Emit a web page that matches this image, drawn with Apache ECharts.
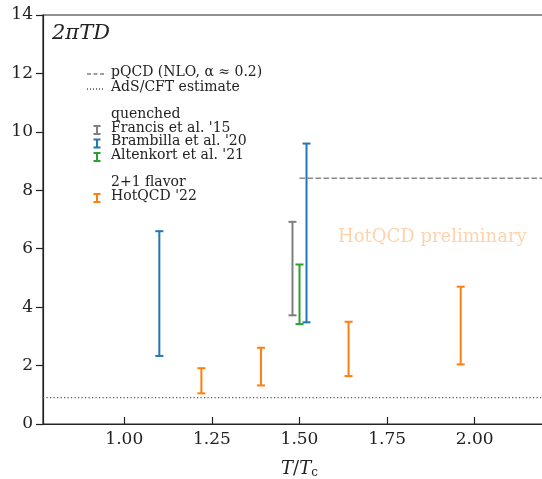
<!DOCTYPE html>
<html>
<head>
<meta charset="utf-8">
<script src="https://cdn.jsdelivr.net/npm/echarts@6/dist/echarts.min.js"></script>
<style>
  html, body { margin: 0; padding: 0; background: #fff; overflow: hidden; }
  #chart { width: 542px; height: 479px; }
</style>
</head>
<body>
<div id="chart"></div>
<script>
// Diffusion coefficient 2πTD versus T/Tc: lattice determinations and model references

// Quenched lattice results
const francisT = [1.48];
const francisLow = [3.72];
const francisHigh = [6.92];

const brambillaT = [1.10, 1.52];
const brambillaLow = [2.33, 3.48];
const brambillaHigh = [6.60, 9.60];

const altenkortT = [1.50];
const altenkortLow = [3.42];
const altenkortHigh = [5.46];

// 2+1 flavor results
const hotqcdT = [1.22, 1.39, 1.64, 1.96];
const hotqcdLow = [1.05, 1.32, 1.64, 2.04];
const hotqcdHigh = [1.91, 2.61, 3.50, 4.70];

// Reference curves
const pqcdT = [1.50, 2.232];
const pqcdValue = [8.41, 8.41];
const adsT = [0.768, 2.232];
const adsValue = [0.90, 0.90];

// Axes
const xRange = [0.768, 2.232];
const xTicks = [1.00, 1.25, 1.50, 1.75, 2.00];
const yRange = [0, 14];
const yStep = 2;

const C = {
  gray: '#7f7f7f',
  blue: '#1f77b4',
  green: '#2ca02c',
  orange: '#ff7f0e',
  ink: '#222222'
};
const SERIF = '"DejaVu Serif", "Liberation Serif", serif';

function rows(t, lo, hi) {
  return t.map((v, i) => [v, lo[i], hi[i]]);
}
function pairs(a, b) {
  return a.map((v, i) => [v, b[i]]);
}

function errorBar(color) {
  return function (params, api) {
    const x = api.value(0);
    const pLo = api.coord([x, api.value(1)]);
    const pHi = api.coord([x, api.value(2)]);
    const cap = 4;
    const style = { stroke: color, lineWidth: 2 };
    return {
      type: 'group',
      children: [
        { type: 'line', shape: { x1: pLo[0], y1: pLo[1], x2: pHi[0], y2: pHi[1] }, style },
        { type: 'line', shape: { x1: pHi[0] - cap, y1: pHi[1], x2: pHi[0] + cap, y2: pHi[1] }, style },
        { type: 'line', shape: { x1: pLo[0] - cap, y1: pLo[1], x2: pLo[0] + cap, y2: pLo[1] }, style }
      ]
    };
  };
}

function ebSeries(name, color, t, lo, hi) {
  return {
    name: name,
    type: 'custom',
    renderItem: errorBar(color),
    data: rows(t, lo, hi),
    encode: { x: 0, y: [1, 2] },
    clip: true,
    z: 5
  };
}

// Legend handles and entries
const legX = 111;
const handleL = 87, handleR = 105, iconX = 97;
const legFont = 14;
function legText(text, y) {
  return { type: 'text', left: legX, top: y - 9, style: { text: text, font: legFont + 'px ' + SERIF, fill: C.ink } };
}
function legLine(y, dash, color) {
  return { type: 'line', shape: { x1: handleL, y1: y, x2: handleR, y2: y },
           style: { stroke: color, lineWidth: 1.3, lineDash: dash } };
}
function legIcon(y, color) {
  const h = 4, c = 3.5, st = { stroke: color, lineWidth: 2 };
  return { type: 'group', children: [
    { type: 'line', shape: { x1: iconX, y1: y - h, x2: iconX, y2: y + h }, style: st },
    { type: 'line', shape: { x1: iconX - c, y1: y - h, x2: iconX + c, y2: y - h }, style: st },
    { type: 'line', shape: { x1: iconX - c, y1: y + h, x2: iconX + c, y2: y + h }, style: st }
  ] };
}

const chart = echarts.init(document.getElementById('chart'), null, { renderer: 'canvas' });

chart.setOption({
  animation: false,
  backgroundColor: '#ffffff',
  grid: {
    left: 43, top: 15, width: 513, height: 409,
    outerBoundsMode: 'none',
    containLabel: false,
    show: true, borderColor: C.ink, borderWidth: 1.2, backgroundColor: 'transparent'
  },
  xAxis: {
    type: 'value',
    min: xRange[0], max: xRange[1],
    name: '{i|T}{r|/}{i|T}{s|c}',
    nameLocation: 'middle',
    nameGap: 35,
    nameTextStyle: {
      rich: {
        i: { fontFamily: SERIF, fontStyle: 'italic', fontSize: 18, color: C.ink },
        r: { fontFamily: SERIF, fontSize: 18, color: C.ink },
        s: { fontFamily: SERIF, fontSize: 12, color: C.ink, verticalAlign: 'bottom', padding: [8, 0, 0, 0] }
      }
    },
    axisLine: { show: true, onZero: false, lineStyle: { color: C.ink, width: 1.2 } },
    axisTick: { show: true, inside: true, length: 7, customValues: xTicks, lineStyle: { color: C.ink, width: 1.2 } },
    axisLabel: {
      customValues: xTicks,
      formatter: v => v.toFixed(2),
      fontFamily: SERIF, fontSize: 17, color: C.ink, margin: 7
    },
    splitLine: { show: false }
  },
  yAxis: {
    type: 'value',
    min: yRange[0], max: yRange[1], interval: yStep,
    axisLine: { show: true, lineStyle: { color: C.ink, width: 1.2 } },
    axisTick: { show: true, inside: false, length: 7, lineStyle: { color: C.ink, width: 1.2 } },
    axisLabel: { fontFamily: SERIF, fontSize: 17, color: C.ink, margin: 10 },
    splitLine: { show: false }
  },
  series: [
    {
      name: 'pQCD (NLO, α ≈ 0.2)',
      type: 'line',
      data: pairs(pqcdT, pqcdValue),
      showSymbol: false,
      lineStyle: { color: '#8a8a8a', width: 1.5, type: [5.5, 2.5] },
      clip: true,
      z: 3
    },
    {
      name: 'AdS/CFT estimate',
      type: 'line',
      data: pairs(adsT, adsValue),
      showSymbol: false,
      lineStyle: { color: '#555555', width: 1.2, type: [1.2, 2.3] },
      clip: true,
      z: 3
    },
    ebSeries("Francis et al. '15", C.gray, francisT, francisLow, francisHigh),
    ebSeries("Altenkort et al. '21", C.green, altenkortT, altenkortLow, altenkortHigh),
    ebSeries("Brambilla et al. '20", C.blue, brambillaT, brambillaLow, brambillaHigh),
    ebSeries("HotQCD '22", C.orange, hotqcdT, hotqcdLow, hotqcdHigh)
  ],
  graphic: [
    { type: 'text', left: 52, top: 23,
      style: { text: '2πTD', font: 'italic 21px ' + SERIF, fill: C.ink } },
    { type: 'text', left: 338, top: 228,
      style: { text: 'HotQCD preliminary', font: '18px ' + SERIF, fill: 'rgba(255,127,14,0.35)' } },
    legLine(74, [4, 2.5], C.gray),
    legText('pQCD (NLO, α ≈ 0.2)', 74),
    legLine(89, [1, 2], '#555555'),
    legText('AdS/CFT estimate', 89),
    legText('quenched', 116),
    legIcon(130, C.gray),
    legText("Francis et al. '15", 130),
    legIcon(143.5, C.blue),
    legText("Brambilla et al. '20", 143.5),
    legIcon(157, C.green),
    legText("Altenkort et al. '21", 157),
    legText('2+1 flavor', 184),
    legIcon(198, C.orange),
    legText("HotQCD '22", 198)
  ]
});
</script>
</body>
</html>
